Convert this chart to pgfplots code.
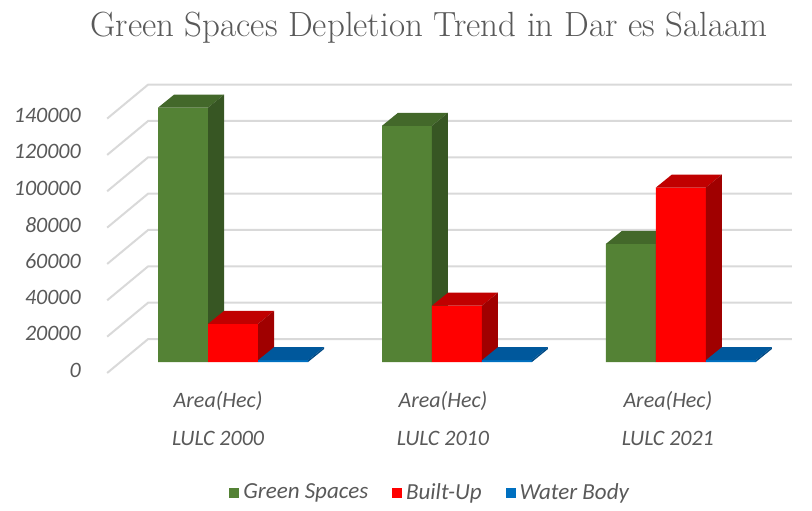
\documentclass[border=0pt]{standalone}
\usepackage{pgfplots}
\pgfplotsset{compat=1.18}
\usepackage{fontspec}
\setsansfont{Carlito}

\definecolor{txtgray}{HTML}{595959}
\definecolor{gridgray}{HTML}{D9D9D9}
\definecolor{gfront}{HTML}{548235}
\definecolor{gtop}{HTML}{43682A}
\definecolor{gside}{HTML}{375623}
\definecolor{rfront}{HTML}{FF0000}
\definecolor{rtop}{HTML}{C00000}
\definecolor{rside}{HTML}{A00000}
\definecolor{bfront}{HTML}{0070C0}
\definecolor{btop}{HTML}{00589C}
\definecolor{bside}{HTML}{004A85}

% top and side faces of a 3D column: left x, value, top colour, side colour
% (1 px = 550 units in y, depth = 16 px right and 13 px up)
\newcommand\faces[4]{%
  \edef\xr{\the\numexpr#1+50\relax}%
  \edef\xrb{\the\numexpr#1+66\relax}%
  \edef\xlb{\the\numexpr#1+16\relax}%
  \edef\vb{\the\numexpr#2+7150\relax}%
  \edef\doit{%
    \noexpand\addplot[fill=#3, draw=none, forget plot] coordinates {(#1,#2) (\xr,#2) (\xrb,\vb) (\xlb,\vb)} --cycle;
    \noexpand\addplot[fill=#4, draw=none, forget plot] coordinates {(\xr,0) (\xr,#2) (\xrb,\vb) (\xrb,7150)} --cycle;
  }\doit}

\begin{document}
\begin{tikzpicture}
\begin{axis}[
    scale only axis,
    width=406pt, height=253pt,
    xmin=0, xmax=812,
    ymin=-79200, ymax=199100,
    clip=false,
    axis line style={draw=none},
    major tick length=0pt,
    scaled y ticks=false,
    ytick={0,20000,40000,60000,80000,100000,120000,140000},
    yticklabels={0,20000,40000,60000,80000,100000,120000,140000},
    yticklabel style={anchor=east, inner sep=0pt, xshift=40.5pt, yshift=-4pt,
        font=\sffamily\itshape\fontsize{11}{13}\selectfont, text=txtgray},
    xtick={218,443,668},
    xticklabels={{Area(Hec)\\LULC 2000},{Area(Hec)\\LULC 2010},{Area(Hec)\\LULC 2021}},
    xticklabel style={anchor=north, align=center, inner sep=0pt, yshift=57.5pt,
        font=\sffamily\itshape\fontsize{11}{19}\selectfont, text=txtgray},
    title={Green Spaces Depletion Trend in Dar es Salaam},
    title style={at={(0.528,0.905)}, anchor=base, inner sep=0pt, yshift=0pt,
        font=\rmfamily\fontsize{17.5}{20}\selectfont, text=txtgray},
    legend style={at={(0.531,0.026)}, anchor=center, draw=none, fill=none,
        legend columns=-1, font=\sffamily\itshape\fontsize{11.5}{13}\selectfont,
        text=txtgray,
        /tikz/every even column/.append style={column sep=10pt}},
    legend image code/.code={\fill[#1] (0pt,-2.5pt) rectangle (5pt,2.5pt);},
]
% gridlines: left wall diagonal, then back wall
\addplot[gridgray, line width=1pt, forget plot] coordinates {(107,-6050) (148,12650) (792,12650)};
\addplot[gridgray, line width=1pt, forget plot] coordinates {(107,13950) (148,32650) (792,32650)};
\addplot[gridgray, line width=1pt, forget plot] coordinates {(107,33950) (148,52650) (792,52650)};
\addplot[gridgray, line width=1pt, forget plot] coordinates {(107,53950) (148,72650) (792,72650)};
\addplot[gridgray, line width=1pt, forget plot] coordinates {(107,73950) (148,92650) (792,92650)};
\addplot[gridgray, line width=1pt, forget plot] coordinates {(107,93950) (148,112650) (792,112650)};
\addplot[gridgray, line width=1pt, forget plot] coordinates {(107,113950) (148,132650) (792,132650)};
\addplot[gridgray, line width=1pt, forget plot] coordinates {(107,133950) (148,152650) (792,152650)};

% Green Spaces
\addplot[ybar, bar width=50, bar shift=0pt, fill=gfront, draw=none]
    coordinates {(183,140000) (407,130000) (631,65000)};
\addlegendentry{Green Spaces}
\faces{158}{140000}{gtop}{gside}
\faces{382}{130000}{gtop}{gside}
\faces{606}{65000}{gtop}{gside}

% Built-Up
\addplot[ybar, bar width=50, bar shift=0pt, fill=rfront, draw=none]
    coordinates {(233,21000) (457,31000) (681,96000)};
\addlegendentry{Built-Up}
\faces{208}{21000}{rtop}{rside}
\faces{432}{31000}{rtop}{rside}
\faces{656}{96000}{rtop}{rside}

% Water Body
\addplot[ybar, bar width=50, bar shift=0pt, fill=bfront, draw=none]
    coordinates {(283,1000) (507,1000) (731,1000)};
\addlegendentry{Water Body}
\faces{258}{1000}{btop}{bside}
\faces{482}{1000}{btop}{bside}
\faces{706}{1000}{btop}{bside}
\end{axis}
\end{tikzpicture}
\end{document}
